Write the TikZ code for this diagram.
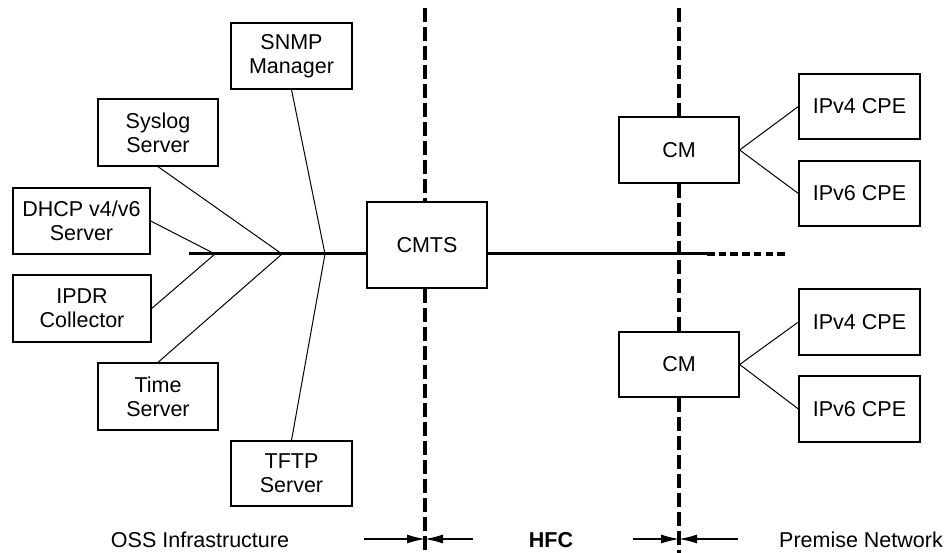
\documentclass[tikz,border=0pt]{standalone}
\usepackage{fontspec}
\setmainfont{Liberation Sans}
\usetikzlibrary{arrows.meta}
\begin{document}
\begin{tikzpicture}[x=1pt,y=-1pt,
  box/.style={draw, line width=1.3pt, minimum width=#1, inner sep=0pt, align=center,
    font=\fontsize{21.5}{24}\selectfont},
  box/.default=120pt,
  link/.style={line width=1pt},
  bus/.style={line width=3pt},
  hfcline/.style={line width=3.2pt, dash pattern=on 14pt off 5pt},
  dotline/.style={line width=3.5pt, dash pattern=on 7.5pt off 4.2pt},
  dim/.style={line width=1.3pt, -{Latex[length=18pt,width=9pt]}},
  lbl/.style={font=\fontsize{21.5}{24}\selectfont}]
\useasboundingbox (0,0) rectangle (945,553);
% boxes
\node[box=121pt, minimum height=66pt] (snmp)   at (291.5,56)   {SNMP\\Manager};
\node[box=120pt, minimum height=67pt] (syslog) at (158,132.5)  {Syslog\\Server};
\node[box=137pt, minimum height=66pt] (dhcp)   at (81.5,221)   {DHCP v4/v6\\Server};
\node[box=138pt, minimum height=67pt] (ipdr)   at (82,308.5)   {IPDR\\Collector};
\node[box=120pt, minimum height=67pt] (time)   at (158,396.5)  {Time\\Server};
\node[box=121pt, minimum height=65pt] (tftp)   at (291.5,473.5) {TFTP\\Server};
\node[box=120pt, minimum height=86pt] (cmts)   at (427,245)    {CMTS};
\node[box=120pt, minimum height=66pt] (cma)    at (679,150)    {CM};
\node[box=120pt, minimum height=65pt] (cmb)    at (679,364.5)  {CM};
\node[box=121pt, minimum height=65pt] (v4a)    at (859.5,106.5) {IPv4 CPE};
\node[box=121pt, minimum height=65pt] (v6a)    at (859.5,193.5) {IPv6 CPE};
\node[box=121pt, minimum height=66pt] (v4b)    at (859.5,322)  {IPv4 CPE};
\node[box=121pt, minimum height=66pt] (v6b)    at (859.5,409)  {IPv6 CPE};
% bus coordinates
\coordinate (busL) at (189,254);
\coordinate (j1) at (215,254);
\coordinate (j2) at (282,254);
\coordinate (j3) at (325,254);
\coordinate (dotS) at (707,254);
\coordinate (dotE) at (785,254);
% bus
\draw[bus] (busL) -- (cmts.west |- busL);
\draw[bus] (cmts.east |- busL) -- (dotS);
\draw[dotline] (dotS) -- (dotE);
% branches
\draw[link] (dhcp.east) -- (j1);
\draw[link] (ipdr.east) -- (j1);
\draw[link] (syslog.south) -- (j2);
\draw[link] (time.north) -- (j2);
\draw[link] (snmp.south) -- (j3);
\draw[link] (tftp.north) -- (j3);
\draw[link] (cma.east) -- (v4a.west);
\draw[link] (cma.east) -- (v6a.west);
\draw[link] (cmb.east) -- (v4b.west);
\draw[link] (cmb.east) -- (v6b.west);
% boundaries
\coordinate (d1t) at (425,8);
\coordinate (d1b) at (425,553);
\coordinate (d2t) at (679,8);
\coordinate (d2b) at (679,553);
\draw[hfcline] (d1t) -- (d1t |- cmts.north);
\draw[hfcline] (d1t |- cmts.south) -- (d1b);
\draw[hfcline] (d2t) -- (cma.north);
\draw[hfcline] (cma.south) -- (cmb.north);
\draw[hfcline] (cmb.south) -- (d2b);
% dimension arrows
\coordinate (a1l) at (364,539);
\coordinate (a1r) at (473,539);
\coordinate (a2l) at (633,539);
\coordinate (a2r) at (738,539);
\draw[dim] (a1l) -- (d1t |- a1l);
\draw[dim] (a1r) -- (d1t |- a1r);
\draw[dim] (a2l) -- (d2t |- a2l);
\draw[dim] (a2r) -- (d2t |- a2r);
% labels
\node[lbl] (oss) at (200,540) {OSS Infrastructure};
\node[lbl, font=\fontsize{21.5}{24}\selectfont\bfseries] (hfc) at (551,540) {HFC};
\node[lbl] (prem) at (861,540) {Premise Network};
\end{tikzpicture}
\end{document}
